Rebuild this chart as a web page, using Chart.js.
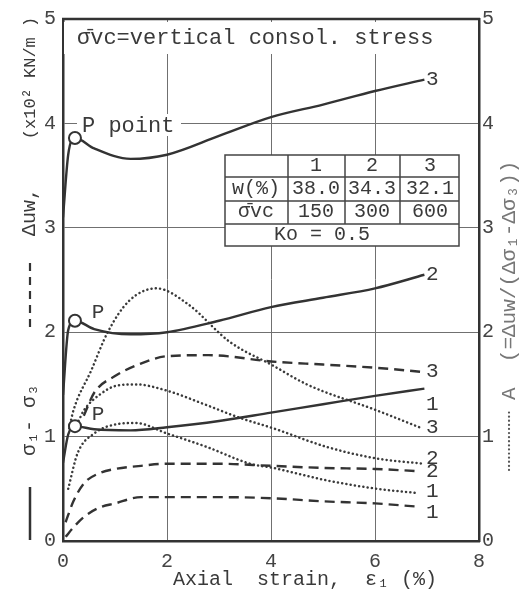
<!DOCTYPE html>
<html>
<head>
<meta charset="utf-8">
<script src="https://cdn.jsdelivr.net/npm/chart.js@4.4.1/dist/chart.umd.min.js"></script>
<style>
  html, body { margin: 0; padding: 0; background: #fff; }
  #wrap { width: 527px; height: 592px; position: relative; }
</style>
</head>
<body>
<div id="wrap"><canvas id="triaxial" width="527" height="592"></canvas></div>
<script>
// axial strain (%) vs deviator stress / pore pressure (x10^2 kN/m2) and A
const xTicks = [0, 2, 4, 6, 8];
const yTicks = [0, 1, 2, 3, 4, 5];

// solid: sigma1 - sigma3
const strainDev = [0, 0.1, 0.23, 0.6, 1.3, 2, 3, 4, 5, 6, 6.95];
const dev1 = [0.75, 1.02, 1.10, 1.07, 1.06, 1.09, 1.15, 1.23, 1.31, 1.39, 1.46];
const dev2 = [1.40, 2.02, 2.11, 2.03, 1.98, 2.00, 2.11, 2.24, 2.33, 2.42, 2.55];
const dev3 = [3.10, 3.70, 3.86, 3.76, 3.66, 3.70, 3.88, 4.06, 4.18, 4.31, 4.42];

// dashed: delta uw
const strainPore = [0.05, 0.2, 0.4, 0.7, 1.0, 1.5, 2, 3, 4, 5, 6, 6.8];
const pore1 = [0.04, 0.13, 0.23, 0.32, 0.36, 0.42, 0.42, 0.42, 0.41, 0.38, 0.36, 0.33];
const pore2 = [0.18, 0.38, 0.55, 0.65, 0.69, 0.72, 0.74, 0.74, 0.72, 0.70, 0.69, 0.67];
const strainPore3 = [0.4, 0.6, 1.0, 1.5, 2, 2.8, 4, 5, 6, 6.9];
const pore3 = [1.20, 1.42, 1.58, 1.70, 1.77, 1.78, 1.72, 1.69, 1.66, 1.62];

// dotted: A = duw / (ds1 - ds3), right axis
const strainA1 = [0.1, 0.28, 0.6, 1.05, 1.4, 2, 2.77, 3.6, 4.04, 5.08, 6.04, 6.8];
const paramA1 = [0.50, 0.84, 1.03, 1.12, 1.13, 1.03, 0.90, 0.74, 0.70, 0.58, 0.50, 0.46];
const strainA2 = [0.3, 0.4, 0.7, 1.05, 1.4, 2, 2.77, 3.4, 4.04, 5.08, 6.04, 6.94];
const paramA2 = [1.15, 1.25, 1.40, 1.49, 1.50, 1.44, 1.30, 1.18, 1.08, 0.90, 0.79, 0.74];
const strainA3 = [0.12, 0.2, 0.54, 0.86, 1.27, 1.8, 2.4, 3.2, 4.04, 4.69, 6.04, 6.9];
const paramA3 = [1.08, 1.25, 1.63, 2.00, 2.30, 2.42, 2.27, 1.91, 1.68, 1.50, 1.25, 1.08];

// P points
const pStrain = [0.23, 0.23, 0.23];
const pStress = [1.10, 2.11, 3.86];

// curve end labels [text, strain, value]
const endLabels = [
  ['3', 7.1, 4.42], ['2', 7.1, 2.55], ['3', 7.1, 1.62], ['1', 7.1, 1.31],
  ['3', 7.1, 1.09], ['2', 7.1, 0.79], ['2', 7.1, 0.67], ['1', 7.1, 0.47], ['1', 7.1, 0.27]
];

// table rows
const tableHead = ['', '1', '2', '3'];
const waterContent = ['w(%)', '38.0', '34.3', '32.1'];
const consolStress = ['σ̄vc', '150', '300', '600'];
const koText = 'Ko = 0.5';

const MONO = '"Liberation Mono", "DejaVu Sans Mono", monospace';
const INK = '#333';

function pts(xs, ys) {
    return xs.map((x, i) => ({ x: x, y: ys[i] }));
}

function lineSet(data, style, axis) {
    const ds = {
        data: data,
        showLine: true,
        pointRadius: 0,
        borderColor: INK,
        borderWidth: 2.4,
        cubicInterpolationMode: 'monotone',
        yAxisID: axis || 'y'
    };
    if (style === 'dash') {
        ds.borderDash = [10, 6];
    } else if (style === 'dot') {
        ds.borderDash = [0.1, 4.2];
        ds.borderCapStyle = 'round';
        ds.borderWidth = 2.5;
        ds.borderColor = '#3a3a3a';
    }
    return ds;
}

// decorations: text boxes, table, labels, axis titles
const decorations = {
    id: 'decorations',
    beforeDatasetsDraw(chart) {
        const ctx = chart.ctx;
        const xs = chart.scales.x, ys = chart.scales.y;
        ctx.save();
        ctx.fillStyle = '#fff';
        ctx.fillRect(64, 22, 378, 32);
        ctx.fillRect(77, 114, 104, 22);
        ctx.fillRect(225, 155, 234, 91);

        ctx.fillStyle = '#3a3a3a';
        ctx.font = '22px ' + MONO;
        ctx.textBaseline = 'middle';
        ctx.textAlign = 'left';
        ctx.fillText('σ̄vc=vertical consol. stress', 77, 38);
        ctx.fillText('P point', 82, 126);

        // table
        ctx.strokeStyle = '#444';
        ctx.lineWidth = 1.5;
        ctx.strokeRect(225, 155, 234, 91);
        [177, 201, 224].forEach(y => {
            ctx.beginPath(); ctx.moveTo(225, y); ctx.lineTo(459, y); ctx.stroke();
        });
        [288, 345, 400].forEach(x => {
            ctx.beginPath(); ctx.moveTo(x, 155); ctx.lineTo(x, 224); ctx.stroke();
        });
        const colCenters = [256, 316, 372, 430];
        ctx.textAlign = 'center';
        ctx.font = '20px ' + MONO;
        tableHead.forEach((t, i) => ctx.fillText(t, colCenters[i], 166));
        waterContent.forEach((t, i) => ctx.fillText(t, colCenters[i], 189));
        consolStress.forEach((t, i) => ctx.fillText(t, colCenters[i], 212));
        ctx.fillText(koText, 322, 235);

        // curve labels
        ctx.font = '21px ' + MONO;
        endLabels.forEach(l => {
            ctx.fillText(l[0], xs.getPixelForValue(l[1]), ys.getPixelForValue(l[2]));
        });
        const p1x = xs.getPixelForValue(pStrain[0]);
        ctx.fillText('P', p1x + 23, ys.getPixelForValue(pStress[0]) - 12);
        ctx.fillText('P', p1x + 23, ys.getPixelForValue(pStress[1]) - 8);
        ctx.restore();
    },
    afterDraw(chart) {
        const ctx = chart.ctx;
        const a = chart.chartArea;
        ctx.save();
        // top border
        ctx.strokeStyle = INK;
        ctx.lineWidth = 2.5;
        ctx.beginPath(); ctx.moveTo(a.left - 1, a.top); ctx.lineTo(a.right + 1, a.top); ctx.stroke();

        ctx.fillStyle = '#3a3a3a';
        ctx.textBaseline = 'middle';
        // x title
        ctx.font = '20px ' + MONO;
        ctx.textAlign = 'left';
        ctx.fillText('Axial  strain,  ε₁ (%)', 173, 580);

        // left title (rotated)
        ctx.save();
        ctx.translate(30, 0);
        ctx.rotate(-Math.PI / 2);
        ctx.lineWidth = 2.5;
        ctx.beginPath(); ctx.moveTo(-540, 0); ctx.lineTo(-487, 0); ctx.stroke();
        ctx.setLineDash([8, 6]);
        ctx.lineWidth = 2.2;
        ctx.beginPath(); ctx.moveTo(-327, 0); ctx.lineTo(-258, 0); ctx.stroke();
        ctx.setLineDash([]);
        ctx.textAlign = 'center';
        ctx.font = '20px ' + MONO;
        ctx.fillText('σ₁- σ₃', -420, 0);
        ctx.fillText('Δuw,', -212, 0);
        ctx.font = '17px ' + MONO;
        ctx.fillText('(x10² KN/m )', -78, 0);
        ctx.restore();

        // right title (rotated)
        ctx.save();
        ctx.translate(509, 0);
        ctx.rotate(-Math.PI / 2);
        ctx.strokeStyle = '#555';
        ctx.lineWidth = 2.2;
        ctx.lineCap = 'round';
        ctx.setLineDash([0.1, 4]);
        ctx.beginPath(); ctx.moveTo(-470, 0); ctx.lineTo(-410, 0); ctx.stroke();
        ctx.fillStyle = '#777';
        ctx.textAlign = 'left';
        ctx.font = '21px ' + MONO;
        ctx.fillText('A  (=Δuw/(Δσ₁-Δσ₃))', -400, 0);
        ctx.restore();
        ctx.restore();
    }
};

function initChart() {
    const canvas = document.getElementById('triaxial');
    const tickFont = { family: MONO, size: 20 };
    const gridStyle = { color: '#707070', lineWidth: 1, drawTicks: false };
    const borderStyle = { color: INK, width: 2.5 };

    new Chart(canvas, {
        type: 'scatter',
        data: {
            datasets: [
                {
                    data: pts(pStrain, pStress),
                    pointRadius: 6,
                    pointBackgroundColor: '#fff',
                    pointBorderColor: INK,
                    pointBorderWidth: 2,
                    showLine: false
                },
                lineSet(pts(strainDev, dev1), 'solid'),
                lineSet(pts(strainDev, dev2), 'solid'),
                lineSet(pts(strainDev, dev3), 'solid'),
                lineSet(pts(strainPore, pore1), 'dash'),
                lineSet(pts(strainPore, pore2), 'dash'),
                lineSet(pts(strainPore3, pore3), 'dash'),
                lineSet(pts(strainA1, paramA1), 'dot', 'y2'),
                lineSet(pts(strainA2, paramA2), 'dot', 'y2'),
                lineSet(pts(strainA3, paramA3), 'dot', 'y2')
            ]
        },
        options: {
            responsive: false,
            animation: false,
            layout: { padding: { top: 16, left: 0, right: 0, bottom: 0 } },
            plugins: { legend: { display: false }, tooltip: { enabled: false } },
            scales: {
                x: {
                    type: 'linear', min: 0, max: 8,
                    afterBuildTicks: s => { s.ticks = xTicks.map(v => ({ value: v })); },
                    ticks: { font: tickFont, color: '#444', padding: 9 },
                    grid: gridStyle,
                    border: borderStyle,
                    afterFit: s => { s.height = 51; }
                },
                y: {
                    position: 'left', min: 0, max: 5,
                    afterBuildTicks: s => { s.ticks = yTicks.map(v => ({ value: v })); },
                    ticks: { font: tickFont, color: '#444', padding: 7 },
                    grid: gridStyle,
                    border: borderStyle,
                    afterFit: s => { s.width = 63; }
                },
                y2: {
                    position: 'right', min: 0, max: 5,
                    afterBuildTicks: s => { s.ticks = yTicks.map(v => ({ value: v })); },
                    ticks: { font: tickFont, color: '#444', padding: 3 },
                    grid: { display: false, drawTicks: false },
                    border: borderStyle,
                    afterFit: s => { s.width = 48; }
                }
            }
        },
        plugins: [decorations]
    });
}

initChart();
</script>
</body>
</html>
